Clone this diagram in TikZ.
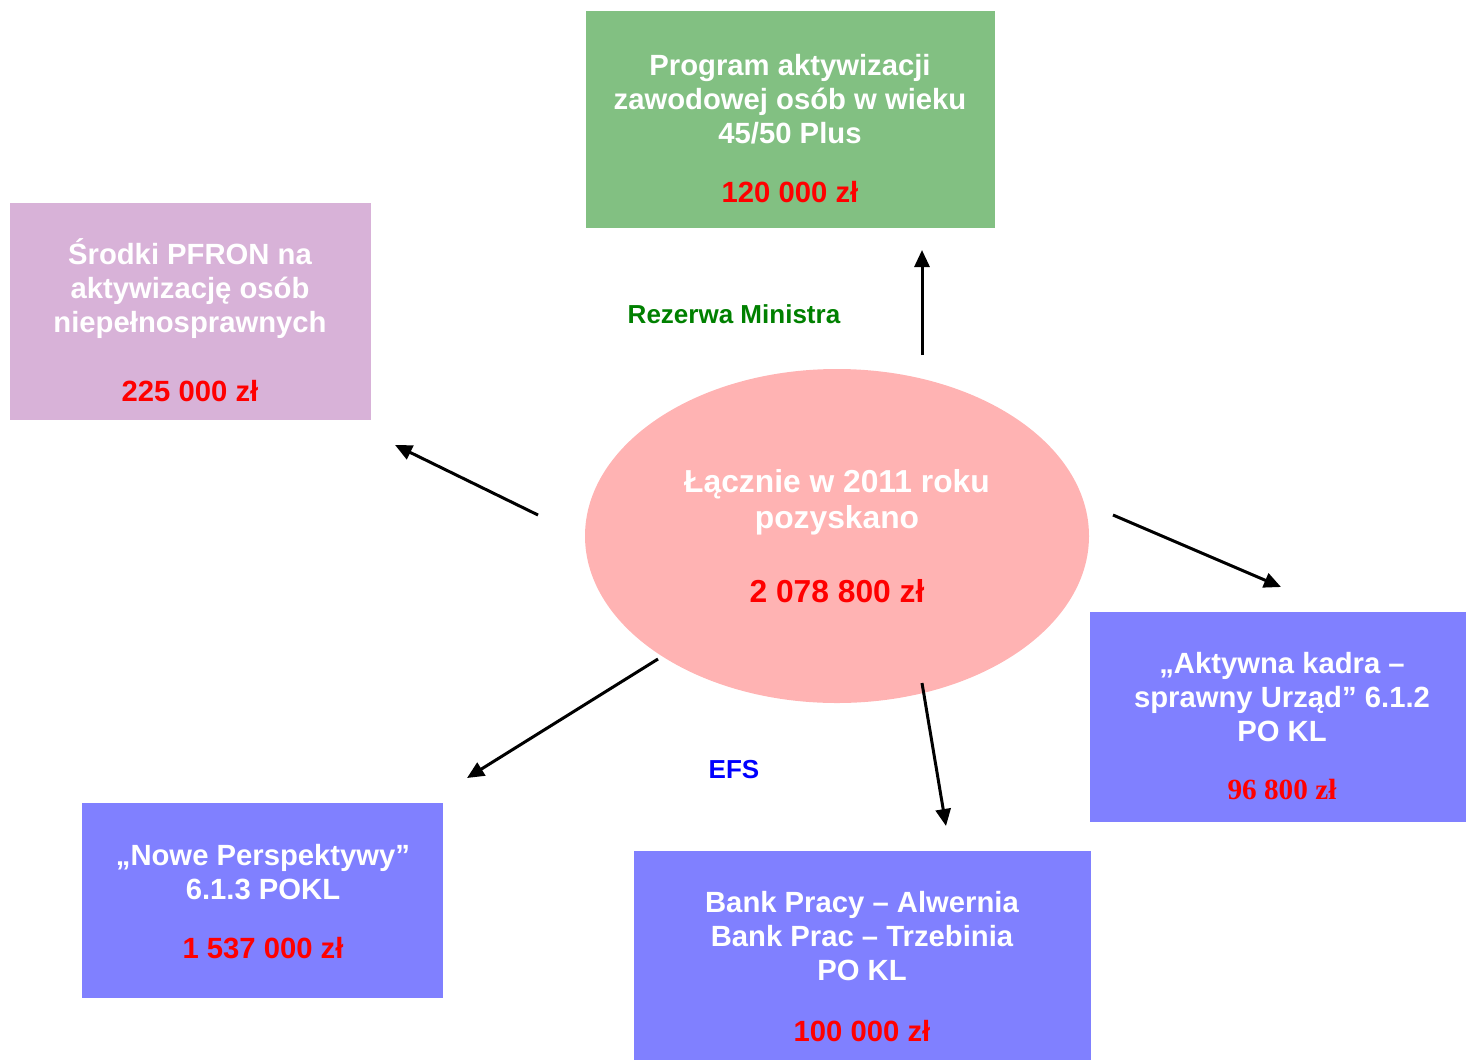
\documentclass[tikz,border=0pt]{standalone}
\usepackage{fontspec}
\setmainfont{Liberation Sans}
\newfontfamily\timesfont{Liberation Serif}
\usetikzlibrary{shapes.geometric,arrows.meta}
\definecolor{progfill}{RGB}{130,192,130}
\definecolor{pfronfill}{RGB}{216,178,216}
\definecolor{sumfill}{RGB}{255,179,179}
\definecolor{efsfill}{RGB}{128,128,255}
\definecolor{kwota}{RGB}{255,0,0}
\definecolor{rezgreen}{RGB}{0,128,0}
\newcommand{\pxu}{0.025cm}
\newcommand{\kw}[1]{\textcolor{kwota}{#1}}
\begin{document}
\begin{tikzpicture}[x=0.025cm, y=-0.025cm,
  box/.style={inner sep=0pt, anchor=north west},
  txt/.style={text=white, align=center, font=\fontsize{20.8}{24.2}\selectfont\bfseries},
  lbl/.style={font=\fontsize{18.5}{22}\selectfont\bfseries},
  arr/.style={-{Triangle[length=17*\pxu, width=15*\pxu]}, line width=3*\pxu}]
\useasboundingbox (0,0) rectangle (1466,1060);
% boxes
\node[box, fill=progfill, minimum width=409*\pxu, minimum height=217*\pxu] (prog) at (586,11) {};
\node[box, fill=pfronfill, minimum width=361*\pxu, minimum height=217*\pxu] (pfron) at (10,203) {};
\node[box, fill=efsfill, minimum width=376*\pxu, minimum height=210*\pxu] (kadra) at (1090,612) {};
\node[box, fill=efsfill, minimum width=361*\pxu, minimum height=195*\pxu] (nowe) at (82,803) {};
\node[box, fill=efsfill, minimum width=457*\pxu, minimum height=209*\pxu] (bank) at (634,851) {};
\node[ellipse, fill=sumfill, inner sep=0pt, minimum width=504*\pxu, minimum height=334*\pxu] (sum) at (837,536) {};
% texts
\node[txt] (progtxt) at (790,128.5) {Program aktywizacji\\zawodowej osób w wieku\\45/50 Plus\\[25*\pxu]\kw{120 000 zł}};
\node[txt] (pfrontxt) at (190,320) {Środki PFRON na\\aktywizację osób\\niepełnosprawnych\\[35*\pxu]\kw{225 000 zł}};
\node[txt, font=\fontsize{22.6}{25.6}\selectfont\bfseries] (sumtxt) at (837,536) {Łącznie w 2011 roku\\pozyskano\\[38*\pxu]\kw{2 078 800 zł}};
\node[txt] (kadratxt) at (1282,726) {„Aktywna kadra –\\sprawny Urząd” 6.1.2\\PO KL\\[24*\pxu]\kw{\timesfont 96 800 zł}};
\node[txt] (nowetxt) at (263,901.5) {„Nowe Perspektywy”\\6.1.3 POKL\\[25*\pxu]\kw{1 537 000 zł}};
\node[txt] (banktxt) at (862,966.5) {Bank Pracy – Alwernia\\Bank Prac – Trzebinia\\PO KL\\[26*\pxu]\kw{100 000 zł}};
\node[lbl, text=rezgreen] (rez) at (734,314) {Rezerwa Ministra};
\node[lbl, text=blue] (efs) at (734,770) {EFS};
% arrows
\coordinate (up0) at (922,355);   \coordinate (up1) at (922,250);
\coordinate (lt0) at (538,515);   \coordinate (lt1) at (395,445);
\coordinate (rt0) at (1113,515);  \coordinate (rt1) at (1281,587);
\coordinate (dl0) at (658,659);   \coordinate (dl1) at (467,778);
\coordinate (dr0) at (922,683);   \coordinate (dr1) at (946,826);
\draw[arr] (up0) -- (up1);
\draw[arr] (lt0) -- (lt1);
\draw[arr] (rt0) -- (rt1);
\draw[arr] (dl0) -- (dl1);
\draw[arr] (dr0) -- (dr1);
\end{tikzpicture}
\end{document}
